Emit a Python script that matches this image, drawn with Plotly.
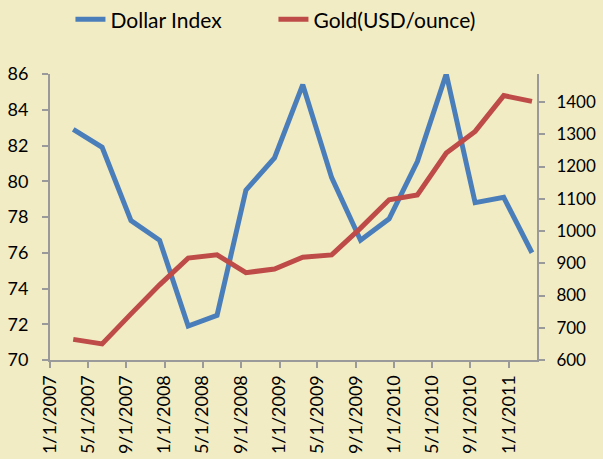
import pandas as pd
import plotly.graph_objects as go

# Quarterly observations (month of observation)
months = ["2007-03", "2007-06", "2007-09", "2007-12", "2008-03", "2008-06",
          "2008-09", "2008-12", "2009-03", "2009-06", "2009-09", "2009-12",
          "2010-03", "2010-06", "2010-09", "2010-12", "2011-03"]
dollar_index = [82.9, 81.9, 77.8, 76.7, 71.9, 72.5, 79.5, 81.3, 85.4, 80.2,
                76.7, 77.9, 81.1, 86.0, 78.8, 79.1, 76.0]
gold_usd = [664, 650, 743, 833, 916, 926, 871, 882, 919, 926, 1009, 1097,
            1112, 1242, 1309, 1420, 1402]

# Excel date axis (monthly base unit) centres each point within its month
x = pd.to_datetime(months) + pd.Timedelta(days=15)

BG = "#F2ECC4"
BLUE = "#4A7EBB"
RED = "#BE4B48"
AXIS = "#9A9A9A"
FONT = "Lato, 'Open Sans', sans-serif"

fig = go.Figure()
fig.add_trace(go.Scatter(x=x, y=dollar_index, name="Dollar Index", mode="lines",
                         line=dict(color=BLUE, width=5), yaxis="y"))
fig.add_trace(go.Scatter(x=x, y=gold_usd, name="Gold(USD/ounce)", mode="lines",
                         line=dict(color=RED, width=5), yaxis="y2"))

fig.update_layout(
    width=603, height=459,
    paper_bgcolor=BG, plot_bgcolor=BG,
    margin=dict(l=50, r=66, t=74, b=99, autoexpand=False),
    font=dict(family=FONT, size=18, color="#000000"),
    showlegend=True,
    legend=dict(orientation="h", x=0.042, xanchor="left", y=1.19, yanchor="middle",
                font=dict(size=21), bgcolor="rgba(0,0,0,0)",
                entrywidth=158, entrywidthmode="pixels"),
    xaxis=dict(type="date", range=["2007-01-01", "2011-04-01"], automargin=False,
               tick0="2007-01-01", dtick="M4", tickformat="%-m/%-d/%Y",
               tickangle=-90, showgrid=False, zeroline=False,
               showline=True, linecolor=AXIS, linewidth=2,
               ticks="outside", ticklen=6, tickwidth=2, tickcolor=AXIS,
               tickfont=dict(size=18)),
    yaxis=dict(range=[70, 86], dtick=2, showgrid=False, zeroline=False, automargin=False,
               showline=True, linecolor=AXIS, linewidth=2,
               ticks="outside", ticklen=6, tickwidth=2, tickcolor=AXIS,
               ticklabelstandoff=10, tickfont=dict(size=18)),
    yaxis2=dict(range=[600, 1487], tick0=600, dtick=100, overlaying="y", side="right",
                showgrid=False, zeroline=False, automargin=False,
                showline=True, linecolor=AXIS, linewidth=2,
                ticks="outside", ticklen=6, tickwidth=2, tickcolor=AXIS,
                ticklabelstandoff=8, tickfont=dict(size=17)),
)

fig.write_html("out.html", config={"displayModeBar": False},
               post_script="document.body.style.margin='0';"
                           "document.body.style.background='" + BG + "';")
